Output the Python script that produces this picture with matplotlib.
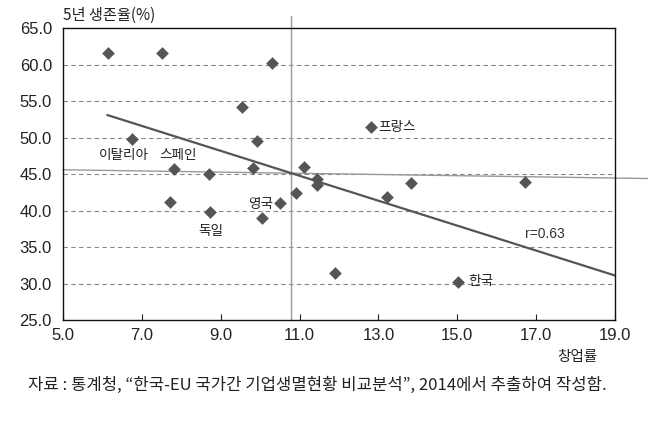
import matplotlib
matplotlib.use('Agg')
import matplotlib.pyplot as plt

plt.rcParams['font.family'] = ['Liberation Sans', 'Noto Sans CJK KR', 'DejaVu Sans']
KR = ['Noto Sans CJK KR', 'DejaVu Sans']

# startup rate (x) vs 5-year survival rate (y)
startup = [6.13, 7.51, 10.31, 9.53, 6.74, 9.91, 7.81, 8.71, 9.83, 11.11, 11.44,
           11.44, 10.91, 12.82, 13.83, 16.73, 13.21, 7.72, 8.73, 10.04, 10.51,
           11.90, 15.01]
survival = [61.6, 61.6, 60.3, 54.2, 49.8, 49.6, 45.7, 45.0, 45.8, 46.0, 44.4,
            43.5, 42.4, 51.4, 43.85, 43.9, 41.9, 41.2, 39.8, 39.0, 41.0,
            31.4, 30.25]

# fitted trend line and mean lines
trend_x = [6.13, 19.0]
trend_y = [53.1, 31.1]
mean_x = 10.78
hline_x = [5.0, 19.82]
hline_y = [45.6, 44.4]

labels = ['이탈리아', '스페인', '독일', '영국', '프랑스', '한국']
label_xy = [(6.54, 47.65), (7.93, 47.65), (8.74, 37.2), (10.01, 40.9),
            (13.0, 51.5), (15.28, 30.3)]
label_ha = ['center', 'center', 'center', 'center', 'left', 'left']

fig = plt.figure(figsize=(6.65, 4.30), dpi=100)
ax = fig.add_axes([63 / 665, 110 / 430, 552 / 665, 291.7 / 430])

ax.set_xlim(5, 19)
ax.set_ylim(25, 65)
ax.set_xticks([5, 7, 9, 11, 13, 15, 17, 19])
ax.set_yticks([25, 30, 35, 40, 45, 50, 55, 60, 65])
ax.set_xticklabels([f'{v:.1f}' for v in ax.get_xticks()])
ax.set_yticklabels([f'{v:.1f}' for v in ax.get_yticks()])
ax.tick_params(axis='x', direction='in', length=4, labelsize=12, colors='#222222', pad=6)
ax.tick_params(axis='y', length=0, labelsize=12, colors='#222222', pad=8)
for s in ax.spines.values():
    s.set_color('#111111')
    s.set_linewidth(1.0)

for v in [30, 35, 40, 45, 50, 55, 60]:
    ax.axhline(v, color='#888888', lw=0.8, ls=(0, (4, 3)), zorder=1)

ax.plot([mean_x, mean_x], [25, 66.7], color='#999999', lw=1, clip_on=False, zorder=2)
ax.plot(hline_x, hline_y, color='#999999', lw=1, clip_on=False, zorder=2)
ax.plot(trend_x, trend_y, color='#555555', lw=1.6, zorder=3)

ax.scatter(startup, survival, marker='D', s=42, color='#555555', zorder=4, linewidths=0)

for t, (x, y), ha in zip(labels, label_xy, label_ha):
    ax.text(x, y, t, ha=ha, va='center', fontsize=9.8, family=KR, color='#222222')
ax.text(17.22, 36.85, 'r=0.63', ha='center', va='center', fontsize=10, color='#333333')

fig.text(63 / 665, 1 - 15 / 430, '5년 생존율(%)', ha='left', va='center',
         fontsize=11, family=KR, color='#222222')
fig.text(577 / 665, 1 - 357 / 430, '창업률', ha='center', va='center',
         fontsize=10.5, family=KR, color='#222222')
fig.text(28 / 665, 1 - 385 / 430,
         '자료 : 통계청, “한국-EU 국가간 기업생멸현황 비교분석”, 2014에서 추출하여 작성함.',
         ha='left', va='center', fontsize=12, family=KR, color='#222222')

fig.savefig('out.png', dpi=100)
